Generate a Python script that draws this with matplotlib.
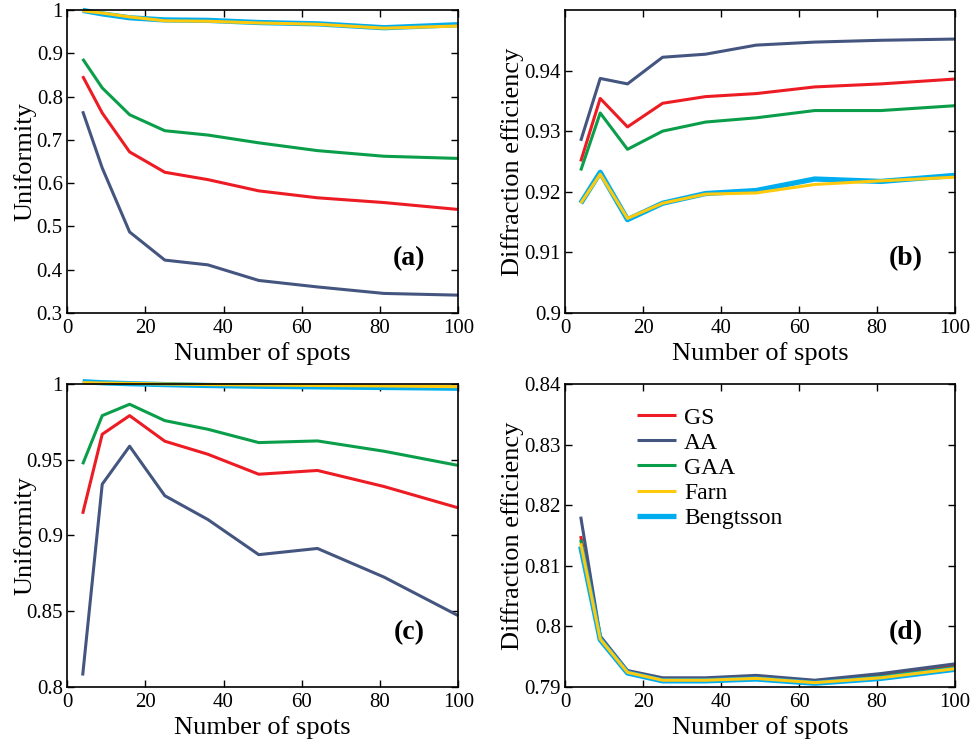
import matplotlib
matplotlib.use("Agg")
import matplotlib.pyplot as plt
from matplotlib.ticker import FuncFormatter

plt.rcParams['font.family'] = ['Liberation Serif', 'DejaVu Serif']

spots = [4, 9, 16, 25, 36, 49, 64, 81, 100]
methods = ["GS", "AA", "GAA", "Farn", "Bengtsson"]
colors = {"GS": "#ED1C24", "AA": "#44557F", "GAA": "#0A9E4A",
          "Farn": "#FFC90E", "Bengtsson": "#00AEEF"}

# (a) Uniformity
a_GS = [0.847, 0.762, 0.672, 0.625, 0.608, 0.582, 0.566, 0.555, 0.539]
a_AA = [0.766, 0.635, 0.487, 0.422, 0.411, 0.375, 0.360, 0.345, 0.341]
a_GAA = [0.887, 0.820, 0.758, 0.721, 0.711, 0.693, 0.675, 0.662, 0.657]
a_Farn = [0.998, 0.993, 0.984, 0.975, 0.974, 0.970, 0.967, 0.958, 0.963]
a_Beng = [0.999, 0.991, 0.982, 0.977, 0.976, 0.971, 0.968, 0.959, 0.966]

# (b) Diffraction efficiency
b_GS = [0.9250, 0.9354, 0.9307, 0.9346, 0.9357, 0.9362, 0.9373, 0.9378, 0.9386]
b_AA = [0.9284, 0.9387, 0.9378, 0.9422, 0.9427, 0.9442, 0.9447, 0.9450, 0.9452]
b_GAA = [0.9235, 0.9330, 0.9270, 0.9300, 0.9315, 0.9322, 0.9334, 0.9334, 0.9342]
b_Farn = [0.9181, 0.9229, 0.9156, 0.9181, 0.9196, 0.9198, 0.9212, 0.9218, 0.9224]
b_Beng = [0.9181, 0.9232, 0.9154, 0.9181, 0.9197, 0.9202, 0.9221, 0.9217, 0.9227]

# (c) Uniformity
c_GS = [0.9143, 0.9668, 0.9791, 0.9622, 0.9536, 0.9404, 0.9429, 0.9323, 0.9182]
c_AA = [0.8075, 0.9338, 0.9589, 0.9262, 0.9105, 0.8873, 0.8914, 0.8725, 0.8470]
c_GAA = [0.9470, 0.9791, 0.9866, 0.9758, 0.9701, 0.9613, 0.9624, 0.9556, 0.9462]
c_Farn = [1.0009, 1.0006, 1.0004, 1.0000, 0.9996, 0.9993, 0.9990, 0.9987, 0.9982]
c_Beng = [1.0015, 1.0008, 1.0002, 0.9996, 0.9990, 0.9985, 0.9981, 0.9977, 0.9972]

# (d) Diffraction efficiency
d_GS = [0.8149, 0.7982, 0.7926, 0.7913, 0.7913, 0.7917, 0.7909, 0.7919, 0.7935]
d_AA = [0.8181, 0.7984, 0.7927, 0.7915, 0.7915, 0.7919, 0.7911, 0.7922, 0.7938]
d_GAA = [0.8143, 0.7980, 0.7925, 0.7912, 0.7912, 0.7915, 0.7908, 0.7917, 0.7932]
d_Farn = [0.8137, 0.7979, 0.7924, 0.7911, 0.7911, 0.7914, 0.7907, 0.7915, 0.7930]
d_Beng = [0.8132, 0.7978, 0.7923, 0.7910, 0.7910, 0.7913, 0.7906, 0.7914, 0.7929]

panels = [
    dict(data=[a_GS, a_AA, a_GAA, a_Farn, a_Beng], ylim=(0.3, 1.0),
         yticks=[0.3, 0.4, 0.5, 0.6, 0.7, 0.8, 0.9, 1.0], ylabel="Uniformity",
         label="(a)", rect=[0.069, 0.580, 0.403, 0.4066], ylx=-0.078),
    dict(data=[b_GS, b_AA, b_GAA, b_Farn, b_Beng], ylim=(0.9, 0.95),
         yticks=[0.9, 0.91, 0.92, 0.93, 0.94], ylabel="Diffraction efficiency",
         label="(b)", rect=[0.582, 0.580, 0.4015, 0.4066], ylx=-0.106),
    dict(data=[c_GS, c_AA, c_GAA, c_Farn, c_Beng], ylim=(0.8, 1.0),
         yticks=[0.8, 0.85, 0.9, 0.95, 1.0], ylabel="Uniformity",
         label="(c)", rect=[0.069, 0.078, 0.403, 0.4066], ylx=-0.078),
    dict(data=[d_GS, d_AA, d_GAA, d_Farn, d_Beng], ylim=(0.79, 0.84),
         yticks=[0.79, 0.8, 0.81, 0.82, 0.83, 0.84], ylabel="Diffraction efficiency",
         label="(d)", rect=[0.582, 0.078, 0.4015, 0.4066], ylx=-0.106),
]

widths = {"GS": 2.2, "AA": 2.2, "GAA": 2.2, "Farn": 2.2, "Bengtsson": 3.8}
zorders = {"GS": 3, "AA": 3.2, "GAA": 3.1, "Farn": 4, "Bengtsson": 3.5}

fig = plt.figure(figsize=(9.71, 7.45), dpi=100)
fmt = FuncFormatter(lambda v, p: ("%g" % round(v, 4)))

axes = []
for p in panels:
    ax = fig.add_axes(p["rect"])
    axes.append(ax)
    for m, ys in zip(methods, p["data"]):
        ax.plot(spots, ys, color=colors[m], lw=widths[m], zorder=zorders[m],
                label=m, solid_capstyle='butt', clip_on=False)
    ax.set_xlim(0, 100)
    ax.set_ylim(*p["ylim"])
    ax.set_xticks([0, 20, 40, 60, 80, 100])
    ax.set_yticks(p["yticks"])
    ax.yaxis.set_major_formatter(fmt)
    ax.tick_params(direction='in', top=True, right=True, labelsize=15,
                   length=5, width=1)
    ax.tick_params(axis='x', pad=4.5)
    ax.tick_params(axis='y', pad=3)
    for s in ax.spines.values():
        s.set_linewidth(1.2)
        s.set_zorder(5)
    ax.set_xlabel("Number of spots", fontsize=19, labelpad=3)
    ax.set_ylabel(p["ylabel"], fontsize=19)
    ax.yaxis.set_label_coords(p["ylx"], 0.5)
    ax.text(0.875, 0.18, p["label"], transform=ax.transAxes, fontsize=20,
            fontweight='bold', ha='center', va='center')

leg = axes[3].legend(loc='upper left', bbox_to_anchor=(0.16, 0.955), frameon=False,
                     fontsize=17, handlelength=1.65, handletextpad=0.35,
                     labelspacing=0.15, borderaxespad=0)

fig.savefig("out.png", dpi=100)
